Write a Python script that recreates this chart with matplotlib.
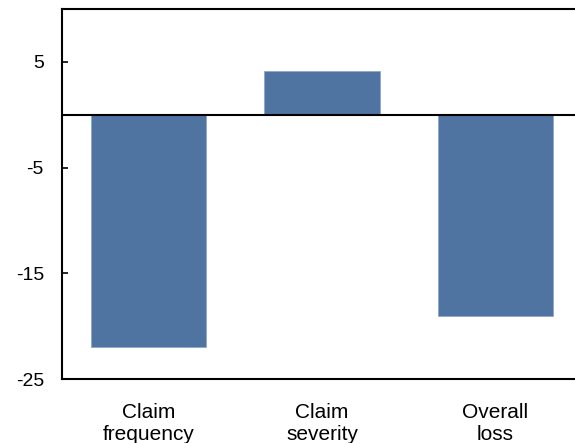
import matplotlib
matplotlib.use("Agg")
import matplotlib.pyplot as plt

categories = ["Claim\nfrequency", "Claim\nseverity", "Overall\nloss"]
values = [-22.0, 4.1, -19.0]
yticks = [5, -5, -15, -25]

plt.rcParams["font.family"] = ["Liberation Sans", "DejaVu Sans"]

fig = plt.figure(figsize=(5.75, 4.43), dpi=100)
ax = fig.add_axes([62 / 575, 1 - 379 / 443, 520 / 575, 370 / 443])

x = list(range(len(categories)))
ax.bar(x, values, width=0.667, color="#4F74A1", edgecolor="#8FA8C8", linewidth=0.6, zorder=2)
ax.axhline(0, color="black", linewidth=1.5, zorder=3)

ax.set_xlim(-0.5, 2.5)
ax.set_ylim(-25, 10)
ax.set_yticks(yticks)
ax.set_yticklabels([str(v) for v in yticks])
ax.set_xticks(x)
ax.set_xticklabels(categories, linespacing=1.2)

ax.tick_params(axis="y", direction="in", length=4, width=1.2, labelsize=14, pad=13)
ax.tick_params(axis="x", length=0, labelsize=15, pad=17)

for side in ["left", "top", "bottom"]:
    ax.spines[side].set_linewidth(1.5)
    ax.spines[side].set_color("black")
ax.spines["right"].set_visible(False)

fig.savefig("out.png", dpi=100)
